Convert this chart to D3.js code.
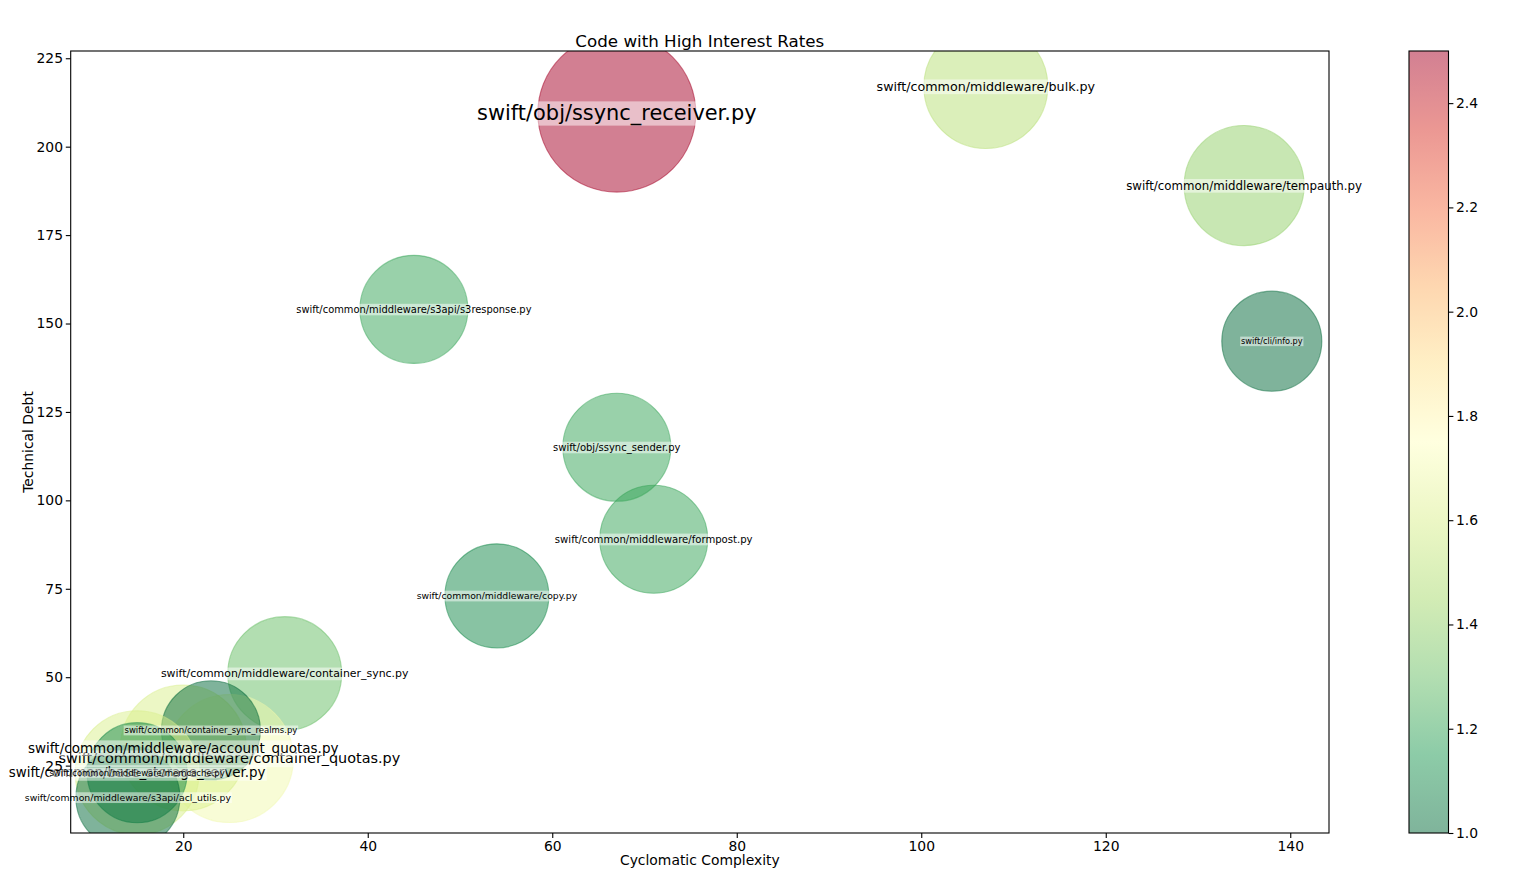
<!DOCTYPE html>
<html>
<head>
<meta charset="utf-8">
<script src="https://cdn.jsdelivr.net/npm/d3@7"></script>
<style>
  html, body { margin: 0; padding: 0; background: #fff; }
  svg { display: block; font-family: "DejaVu Sans", sans-serif; }
  .tick text { font-family: "DejaVu Sans", sans-serif; }
</style>
</head>
<body>
<svg id="chart" width="1520" height="894"></svg>
<script>
// ---------------- data ----------------
const files = [
  "swift/obj/ssync_receiver.py",
  "swift/common/middleware/bulk.py",
  "swift/common/middleware/tempauth.py",
  "swift/common/middleware/s3api/s3response.py",
  "swift/cli/info.py",
  "swift/obj/ssync_sender.py",
  "swift/common/middleware/formpost.py",
  "swift/common/middleware/copy.py",
  "swift/common/middleware/container_sync.py",
  "swift/common/middleware/container_quotas.py",
  "swift/common/middleware/account_quotas.py",
  "swift/common/container_sync_realms.py",
  "swift/common/base_storage_server.py",
  "swift/common/middleware/memcache.py",
  "swift/common/middleware/s3api/acl_utils.py"
];
const complexity = [67, 107, 135, 45, 138, 67, 71, 54, 31, 25, 20, 23, 15, 15, 14];
const debt       = [209.5, 217, 189, 154, 145, 115, 89, 73, 51, 27, 30, 35, 23, 23, 16];
const interest   = [2.5, 1.5, 1.4, 1.2, 1.0, 1.2, 1.2, 1.1, 1.3, 1.7, 1.6, 1.0, 1.6, 1.1, 1.0];
const bubbleSize = [12950, 7970, 7470, 6050, 5190, 6050, 6050, 5610, 6740, 8500, 8230, 5080, 7970, 5190, 5610];
const xTicks = [20, 40, 60, 80, 100, 120, 140];
const yTicks = [25, 50, 75, 100, 125, 150, 175, 200, 225];
const cTicks = [1.0, 1.2, 1.4, 1.6, 1.8, 2.0, 2.2, 2.4];
const cDomain = [1.0, 2.5];

// ---------------- styles ----------------
const labelFontPx = [20.9, 12.7, 11.8, 9.9, 8.2, 10.0, 10.1, 9.25, 10.95, 14.4, 13.5, 8.5, 13.4, 8.5, 9.3];
const RdYlGn = ["#a50026","#d73027","#f46d43","#fdae61","#fee08b","#ffffbf","#d9ef8b","#a6d96a","#66bd63","#1a9850","#006837"];
const FONT = "DejaVu Sans, sans-serif";

const data = files.map((f, i) => ({
  file: f, x: complexity[i], y: debt[i], c: interest[i], s: bubbleSize[i], fs: labelFontPx[i]
}));

const svg = d3.select("#chart");
const W = 1520, H = 894;
const plot = { left: 70.7, right: 1329, top: 51, bottom: 833 };

function padded(ext) {
  const m = (ext[1] - ext[0]) * 0.05;
  return [ext[0] - m, ext[1] + m];
}
const x = d3.scaleLinear().domain(padded(d3.extent(complexity))).range([plot.left, plot.right]);
const y = d3.scaleLinear().domain(padded(d3.extent(debt))).range([plot.bottom, plot.top]);
const r = d3.scaleSqrt().domain([0, 10000]).range([0, 69.44]);

// reversed RdYlGn, piecewise linear like matplotlib
const cmapPos = RdYlGn.map((_, i) => i / (RdYlGn.length - 1));
const rdylgn = d3.scaleLinear().domain(cmapPos).range(RdYlGn).interpolate(d3.interpolateRgb).clamp(true);
const tNorm = d3.scaleLinear().domain(cDomain).range([0, 1]).clamp(true);
const color = v => rdylgn(1 - tNorm(v));

svg.append("rect").attr("width", W).attr("height", H).attr("fill", "#fff");

// clip
svg.append("defs").append("clipPath").attr("id", "plotclip")
  .append("rect").attr("x", plot.left).attr("y", plot.top)
  .attr("width", plot.right - plot.left).attr("height", plot.bottom - plot.top);

// bubbles
svg.append("g").attr("clip-path", "url(#plotclip)")
  .selectAll("circle").data(data).join("circle")
  .attr("cx", d => x(d.x)).attr("cy", d => y(d.y)).attr("r", d => r(d.s))
  .attr("fill", d => color(d.c)).attr("fill-opacity", 0.5)
  .attr("stroke", d => color(d.c)).attr("stroke-opacity", 0.5).attr("stroke-width", 1.1);

// labels
const lg = svg.append("g");
data.forEach(d => {
  const g = lg.append("g");
  const cx = x(d.x), cy = y(d.y);
  const t = g.append("text").attr("x", cx).attr("y", cy + 0.34 * d.fs)
    .attr("text-anchor", "middle").attr("font-size", d.fs).attr("font-family", FONT)
    .attr("fill", "#000").text(d.file);
  const w = t.node().getComputedTextLength();
  g.insert("rect", "text")
    .attr("x", cx - w / 2 - 0.1 * d.fs).attr("y", cy - 0.56 * d.fs)
    .attr("width", w + 0.2 * d.fs).attr("height", 1.16 * d.fs)
    .attr("fill", "#fff").attr("fill-opacity", 0.5);
});

// axes
const tickStyle = g => {
  g.select(".domain").remove();
  g.selectAll(".tick line").attr("stroke", "#000").attr("stroke-width", 1.1);
  g.selectAll(".tick text").attr("font-size", 13.9).attr("fill", "#000").attr("font-family", FONT);
};
svg.append("g").attr("transform", `translate(0,${plot.bottom})`)
  .call(d3.axisBottom(x).tickValues(xTicks).tickFormat(d3.format("d")).tickSize(4.9).tickPadding(3.5))
  .call(tickStyle);
svg.append("g").attr("transform", `translate(${plot.left},0)`)
  .call(d3.axisLeft(y).tickValues(yTicks).tickFormat(d3.format("d")).tickSize(4.9).tickPadding(2.8))
  .call(tickStyle);

svg.append("rect").attr("x", plot.left).attr("y", plot.top)
  .attr("width", plot.right - plot.left).attr("height", plot.bottom - plot.top)
  .attr("fill", "none").attr("stroke", "#000").attr("stroke-width", 1.1);

// titles
svg.append("text").attr("x", (plot.left + plot.right) / 2).attr("y", 47)
  .attr("text-anchor", "middle").attr("font-size", 16.7).attr("font-family", FONT)
  .text("Code with High Interest Rates");
svg.append("text").attr("x", (plot.left + plot.right) / 2).attr("y", 865)
  .attr("text-anchor", "middle").attr("font-size", 13.9).attr("font-family", FONT)
  .text("Cyclomatic Complexity");
svg.append("text").attr("transform", `translate(33,${(plot.top + plot.bottom) / 2}) rotate(-90)`)
  .attr("text-anchor", "middle").attr("font-size", 13.9).attr("font-family", FONT)
  .text("Technical Debt");

// colorbar
const cb = { left: 1409, right: 1448.5 };
const cScale = d3.scaleLinear().domain(cDomain).range([plot.bottom, plot.top]);
const grad = svg.select("defs").append("linearGradient").attr("id", "cbgrad")
  .attr("x1", 0).attr("y1", 1).attr("x2", 0).attr("y2", 0);
d3.range(0, 1.0001, 0.02).forEach(t => {
  const v = cDomain[0] + t * (cDomain[1] - cDomain[0]);
  grad.append("stop").attr("offset", t).attr("stop-color", color(v)).attr("stop-opacity", 0.5);
});
svg.append("rect").attr("x", cb.left).attr("y", plot.top)
  .attr("width", cb.right - cb.left).attr("height", plot.bottom - plot.top)
  .attr("fill", "url(#cbgrad)");
svg.append("g").attr("transform", `translate(${cb.right},0)`)
  .call(d3.axisRight(cScale).tickValues(cTicks).tickFormat(d3.format(".1f")).tickSize(4.9).tickPadding(2.5))
  .call(tickStyle);
svg.append("rect").attr("x", cb.left).attr("y", plot.top)
  .attr("width", cb.right - cb.left).attr("height", plot.bottom - plot.top)
  .attr("fill", "none").attr("stroke", "#000").attr("stroke-width", 1.1);
</script>
</body>
</html>
